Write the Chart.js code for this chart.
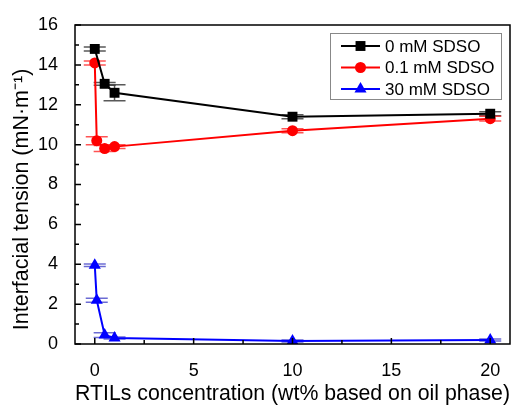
<!DOCTYPE html>
<html>
<head>
<meta charset="utf-8">
<script src="https://cdn.jsdelivr.net/npm/chart.js@4.4.1/dist/chart.umd.min.js"></script>
<style>
  html, body { margin: 0; padding: 0; background: #fff; }
  #wrap { width: 518px; height: 407px; position: relative; }
</style>
</head>
<body>
<div id="wrap"><canvas id="c" width="518" height="407"></canvas></div>
<script>
// ---- data ----
const seriesLabels = ['0 mM SDSO', '0.1 mM SDSO', '30 mM SDSO'];
const xBlack = [0, 0.5, 1, 10, 20];
const yBlack = [14.8, 13.05, 12.6, 11.4, 11.55];
const eBlack = [0.1, 0.07, 0.4, 0.1, 0.1];
const xRed = [0, 0.1, 0.5, 1, 10, 20];
const yRed = [14.1, 10.2, 9.8, 9.9, 10.7, 11.3];
const eRed = [0.1, 0.2, 0.15, 0.1, 0.1, 0.12];
const xBlue = [0, 0.1, 0.5, 1, 10, 20];
const yBlue = [3.95, 2.2, 0.45, 0.3, 0.15, 0.2];
const eBlue = [0.06, 0.1, 0.12, 0.05, 0.05, 0.05];
const xTicks = [0, 5, 10, 15, 20];
const yTicks = [0, 2, 4, 6, 8, 10, 12, 14, 16];
const xTitle = 'RTILs concentration (wt% based on oil phase)';
const yTitle = 'Interfacial tension (mN\u00B7m\u207B\u00B9)     ';

const FONT = '"Liberation Sans", Arial, Helvetica, sans-serif';
const toPts = (xs, ys) => xs.map((x, i) => ({ x: x, y: ys[i] }));

const styles = [
  { color: '#000000', cap: 'rgba(60,60,60,0.85)', style: 'rect', r: 7, lw: 2, err: eBlack },
  { color: '#ff0000', cap: 'rgba(255,40,40,0.8)', style: 'circle', r: 5.5, lw: 2, err: eRed },
  { color: '#0000ff', cap: 'rgba(70,70,200,0.8)', style: 'triangle', r: 7, lw: 2, err: eBlue }
];
const allX = [xBlack, xRed, xBlue];
const allY = [yBlack, yRed, yBlue];

const datasets = styles.map((s, i) => ({
  label: seriesLabels[i],
  data: toPts(allX[i], allY[i]),
  borderColor: s.color,
  backgroundColor: s.color,
  borderWidth: s.lw,
  pointStyle: s.style,
  pointRadius: s.r,
  pointHoverRadius: s.r,
  pointBorderWidth: 0,
  pointBackgroundColor: s.color,
  showLine: true,
  tension: 0
}));

function marker(ctx, style, x, y, r, color) {
  ctx.save();
  ctx.fillStyle = color;
  ctx.beginPath();
  if (style === 'rect') {
    const s = Math.SQRT1_2 * r;
    ctx.rect(x - s, y - s, 2 * s, 2 * s);
  } else if (style === 'circle') {
    ctx.arc(x, y, r, 0, Math.PI * 2);
  } else {
    const xo = Math.cos(Math.PI / 6) * r;
    ctx.moveTo(x, y - r);
    ctx.lineTo(x + xo, y + r / 2);
    ctx.lineTo(x - xo, y + r / 2);
    ctx.closePath();
  }
  ctx.fill();
  ctx.restore();
}

const decor = {
  id: 'decor',
  beforeDatasetsDraw(chart) {
    const ctx = chart.ctx, xs = chart.scales.x, ys = chart.scales.y;
    ctx.save();
    styles.forEach((s, i) => {
      ctx.strokeStyle = s.cap;
      ctx.lineWidth = 1.5;
      allX[i].forEach((xv, j) => {
        const px = xs.getPixelForValue(xv);
        const yT = ys.getPixelForValue(allY[i][j] + s.err[j]);
        const yB = ys.getPixelForValue(allY[i][j] - s.err[j]);
        ctx.beginPath();
        ctx.moveTo(px, yT); ctx.lineTo(px, yB);
        ctx.moveTo(px - 11, yT); ctx.lineTo(px + 11, yT);
        ctx.moveTo(px - 11, yB); ctx.lineTo(px + 11, yB);
        ctx.stroke();
      });
    });
    ctx.restore();
  },
  afterDraw(chart) {
    const ctx = chart.ctx, a = chart.chartArea, xs = chart.scales.x, ys = chart.scales.y;
    ctx.save();
    ctx.strokeStyle = '#000';
    ctx.lineWidth = 1.5;
    ctx.strokeRect(a.left, a.top, a.right - a.left, a.bottom - a.top);
    ctx.beginPath();
    for (let v = 0; v <= 20.001; v += 2.5) {
      const px = xs.getPixelForValue(v);
      const len = (Math.abs(v % 5) < 1e-6) ? 6 : 4;
      ctx.moveTo(px, a.bottom); ctx.lineTo(px, a.bottom - len);
    }
    for (let v = 0; v <= 16; v += 1) {
      const py = ys.getPixelForValue(v);
      const len = (v % 2 === 0) ? 6 : 4;
      ctx.moveTo(a.left, py); ctx.lineTo(a.left + len, py);
    }
    ctx.stroke();

    // legend box
    const bx = 330, by = 33, bw = 171, bh = 66;
    ctx.fillStyle = '#fff';
    ctx.fillRect(bx, by, bw, bh);
    ctx.strokeStyle = '#888';
    ctx.lineWidth = 1;
    ctx.strokeRect(bx + 0.5, by + 0.5, bw, bh);
    ctx.font = '17px ' + FONT;
    ctx.textBaseline = 'middle';
    ctx.textAlign = 'left';
    const rows = [46, 67.5, 89];
    styles.forEach((s, i) => {
      const y = rows[i];
      ctx.strokeStyle = s.color;
      ctx.lineWidth = s.lw;
      ctx.beginPath();
      ctx.moveTo(341, y); ctx.lineTo(380, y);
      ctx.stroke();
      marker(ctx, s.style, 360.5, y, s.r, s.color);
      ctx.fillStyle = '#000';
      ctx.fillText(seriesLabels[i], 385, y + 1);
    });
    ctx.restore();
  }
};

new Chart(document.getElementById('c'), {
  type: 'scatter',
  data: { datasets: datasets },
  options: {
    responsive: false,
    animation: false,
    devicePixelRatio: 1,
    layout: { padding: { top: 25, right: 8, left: 0, bottom: 0 } },
    plugins: { legend: { display: false }, tooltip: { enabled: false } },
    scales: {
      x: {
        type: 'linear', min: -1, max: 21,
        afterBuildTicks: s => { s.ticks = xTicks.map(v => ({ value: v })); },
        afterFit: s => { s.height = 63; },
        grid: { display: false }, border: { display: false },
        ticks: { color: '#000', font: { size: 18, family: FONT }, padding: 8, maxRotation: 0, autoSkip: false },
        title: { display: true, text: xTitle, color: '#000', font: { size: 22, family: FONT }, padding: { top: 0, bottom: 0 } }
      },
      y: {
        type: 'linear', min: 0, max: 16,
        afterBuildTicks: s => { s.ticks = yTicks.map(v => ({ value: v })); },
        afterFit: s => { s.width = 75; },
        grid: { display: false }, border: { display: false },
        ticks: { color: '#000', font: { size: 18, family: FONT }, padding: 9, autoSkip: false },
        title: { display: true, text: yTitle, color: '#000', font: { size: 21.5, family: FONT }, padding: { top: 9, bottom: 0 } }
      }
    }
  },
  plugins: [decor]
});
</script>
</body>
</html>
